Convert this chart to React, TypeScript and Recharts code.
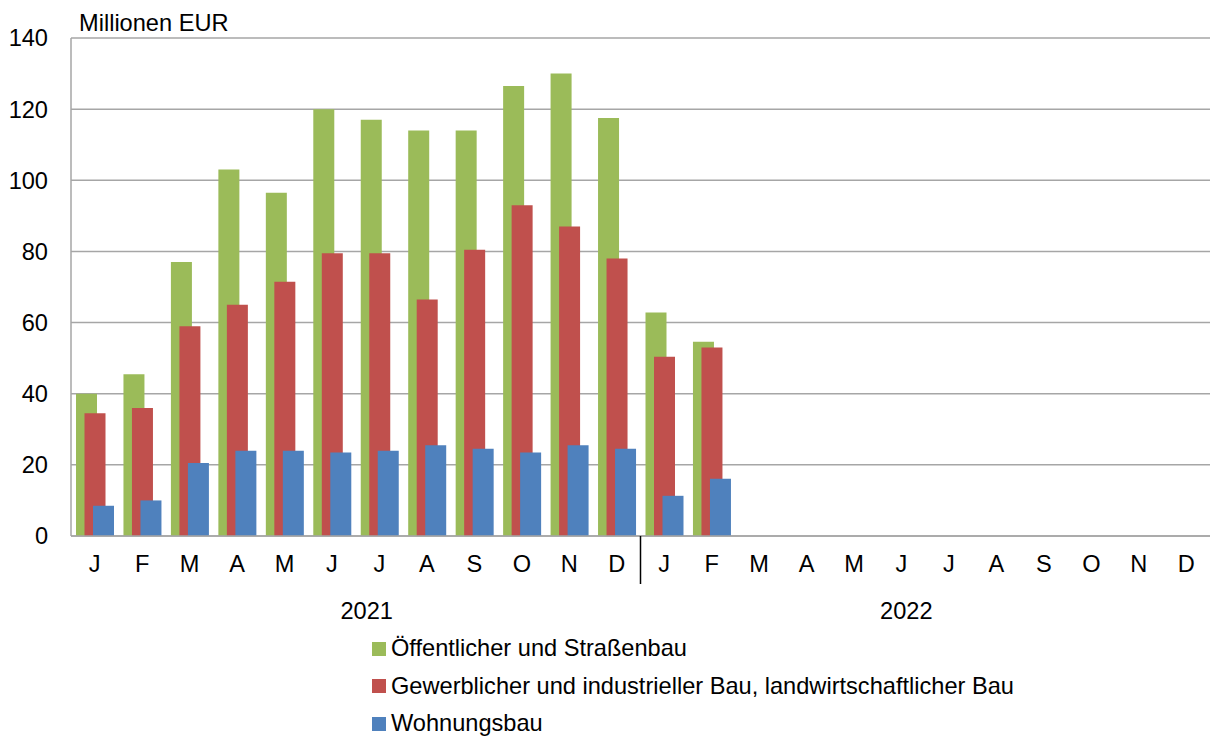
import { BarChart, Bar, XAxis, YAxis, CartesianGrid, Legend } from 'recharts';

const months = ['J', 'F', 'M', 'A', 'M', 'J', 'J', 'A', 'S', 'O', 'N', 'D', 'J', 'F', 'M', 'A', 'M', 'J', 'J', 'A', 'S', 'O', 'N', 'D'];
const years = ['2021', '2022'];

// Millionen EUR
const oeffentlich = [40, 45.5, 77, 103, 96.5, 120, 117, 114, 114, 126.5, 130, 117.5, 62.8, 54.6];
const gewerblich = [34.5, 36, 59, 65, 71.5, 79.5, 79.5, 66.5, 80.5, 93, 87, 78, 50.4, 53];
const wohnungsbau = [8.5, 10, 20.5, 24, 24, 23.5, 24, 25.5, 24.5, 23.5, 25.5, 24.5, 11.3, 16.1];

const seriesNames = [
  'Öffentlicher und Straßenbau',
  'Gewerblicher und industrieller Bau, landwirtschaftlicher Bau',
  'Wohnungsbau',
];

const yTicks = [0, 20, 40, 60, 80, 100, 120, 140];

const GREEN = '#9BBB59';
const RED = '#C0504D';
const BLUE = '#4F81BD';
const GRID = '#A6A6A6';
const FONT = '"Liberation Sans", Arial, sans-serif';
const FS = 23.6;
const seriesColors = [GREEN, RED, BLUE];

const data = months.map((m, i) => ({
  key: `${i}`,
  month: m,
  oeffentlich: oeffentlich[i] ?? null,
  gewerblich: gewerblich[i] ?? null,
  wohnungsbau: wohnungsbau[i] ?? null,
}));

const MonthTick = (props: any) => {
  const { x, y, payload } = props;
  const idx = payload.index;
  const bw = payload.offset ? payload.offset * 2 : 47.46;
  return (
    <g>
      <text x={x} y={y + 36} textAnchor="middle" fontSize={FS} fontFamily={FONT} fill="#000">
        {months[idx]}
      </text>
      {idx === 12 && (
        <line x1={x - bw / 2} x2={x - bw / 2} y1={y} y2={y + 48} stroke="#000" strokeWidth={1.5} />
      )}
      {idx === 0 && (
        <text x={x + bw * 5.73} y={y + 83} textAnchor="middle" fontSize={FS} fontFamily={FONT} fill="#000">
          {years[0]}
        </text>
      )}
      {idx === 12 && (
        <text x={x + bw * 5.1} y={y + 83} textAnchor="middle" fontSize={FS} fontFamily={FONT} fill="#000">
          {years[1]}
        </text>
      )}
    </g>
  );
};

// own order, Recharts would sort the payload by name
const LegendContent = () => (
  <div style={{ fontFamily: FONT, fontSize: FS, color: '#000' }}>
    {seriesNames.map((name, i) => (
      <div key={name} style={{ display: 'flex', alignItems: 'center', height: 37.5, whiteSpace: 'nowrap' }}>
        <span style={{ width: 14, height: 14, background: seriesColors[i], display: 'inline-block', marginRight: 5 }} />
        <span>{name}</span>
      </div>
    ))}
  </div>
);

export default function App() {
  return (
    <div style={{ position: 'absolute', left: 0, top: 0, width: 1211, height: 738, background: '#fff' }}>
      <BarChart
        width={1211}
        height={738}
        data={data}
        margin={{ top: 38, right: 1, left: 0, bottom: 102 }}
        barSize={21}
        barGap={-12.5}
      >
        <CartesianGrid vertical={false} stroke={GRID} strokeWidth={1.5} />
        <XAxis
          dataKey="key"
          interval={0}
          height={100}
          tickSize={0}
          tickMargin={0}
          tickLine={false}
          axisLine={{ stroke: GRID, strokeWidth: 1.5 }}
          tick={<MonthTick />}
        />
        <YAxis
          width={71}
          domain={[0, 140]}
          ticks={yTicks}
          interval={0}
          tickSize={0}
          tickMargin={23}
          tickLine={false}
          axisLine={{ stroke: GRID, strokeWidth: 1.5 }}
          tick={{ fontSize: FS, fontFamily: FONT, fill: '#000' }}
          label={(p: any) => (
            <text x={p.viewBox.x + p.viewBox.width + 8} y={p.viewBox.y - 7} fontSize={FS} fontFamily={FONT} fill="#000">
              Millionen EUR
            </text>
          )}
        />
        <Legend
          layout="vertical"
          align="center"
          verticalAlign="middle"
          content={<LegendContent />}
          wrapperStyle={{ position: 'absolute', left: 372, top: 630, width: 760 }}
        />
        <Bar dataKey="oeffentlich" name={seriesNames[0]} fill={GREEN} isAnimationActive={false} />
        <Bar dataKey="gewerblich" name={seriesNames[1]} fill={RED} isAnimationActive={false} />
        <Bar dataKey="wohnungsbau" name={seriesNames[2]} fill={BLUE} isAnimationActive={false} />
      </BarChart>
    </div>
  );
}
